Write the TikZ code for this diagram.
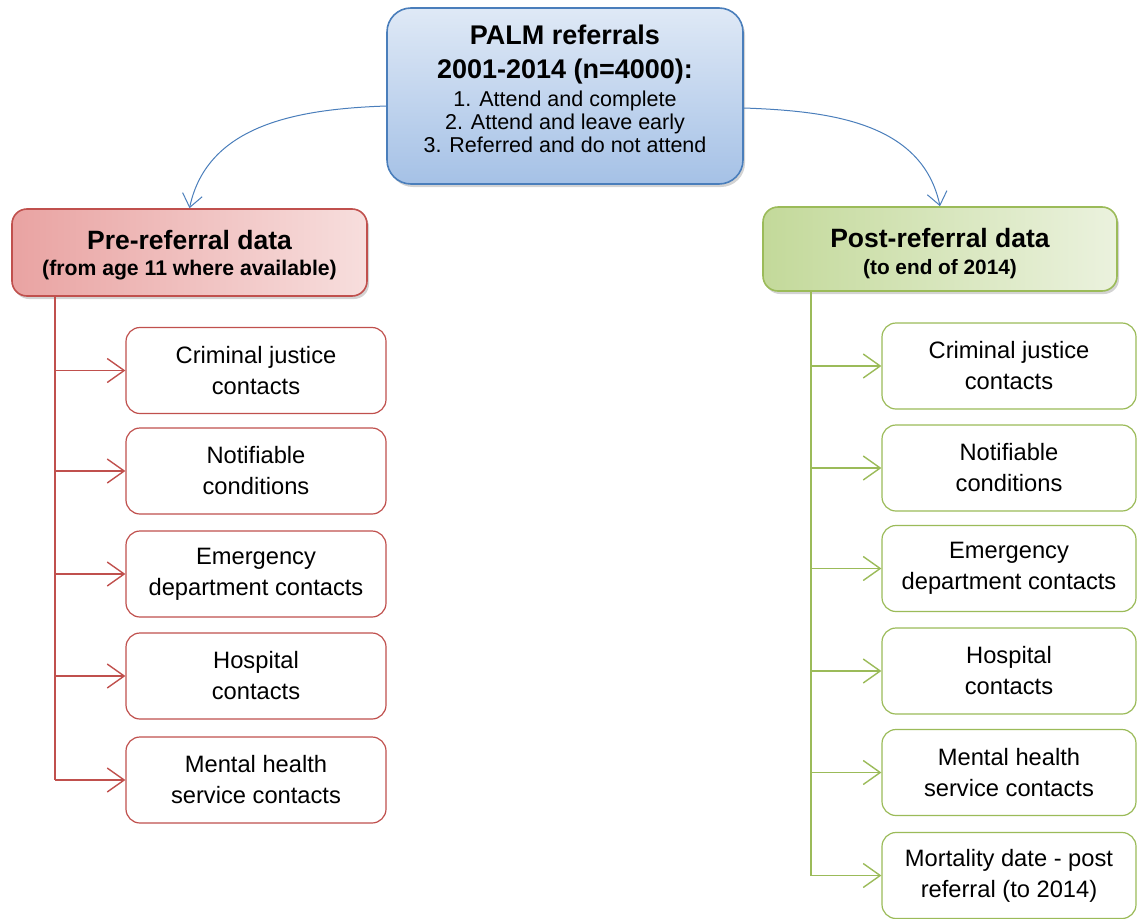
\documentclass[tikz,border=0pt]{standalone}
\usepackage{fontspec}
\setmainfont{Liberation Sans}
\usetikzlibrary{arrows.meta,shadows,calc}
\definecolor{bluedge}{HTML}{4A7EBB}
\definecolor{bluetop}{HTML}{DFE9F6}
\definecolor{bluebot}{HTML}{A5C1E6}
\definecolor{rededge}{HTML}{C0504D}
\definecolor{redl}{HTML}{E9A3A2}
\definecolor{redr}{HTML}{F7DEDD}
\definecolor{grnedge}{HTML}{9BBB59}
\definecolor{grnl}{HTML}{C3D99A}
\definecolor{grnr}{HTML}{EBF2DE}
\begin{document}
\begin{tikzpicture}[x=1pt,y=-1pt,
  childbox/.style={draw=#1, line width=1.2pt, rounded corners=14pt, fill=white,
    minimum height=86pt, align=center, inner sep=0pt,
    font=\fontsize{23.7}{31}\selectfont},
  headbox/.style={draw=#1, line width=1.6pt, rounded corners=15pt, align=center,
    inner sep=0pt, drop shadow={opacity=0.35, shadow xshift=2pt, shadow yshift=-3pt}},
  barb/.style={draw=#1, line width=1.4pt, -{Straight Barb[length=17pt,width=24pt,line width=1.4pt]}},
  trunk/.style={draw=#1, line width=1.4pt},
  curvearrow/.style={draw=bluedge, line width=1pt, -{Straight Barb[length=13pt,width=20pt,line width=1pt]}},
]
\useasboundingbox (0,0) rectangle (1137,918);

% top box
\node[headbox=bluedge, top color=bluetop, bottom color=bluebot, rounded corners=24pt,
  minimum width=356pt, minimum height=176pt] (top) at (565,96) {};
\node[align=center, font=\bfseries\fontsize{27}{34}\selectfont] (toptitle) at (565,55)
  {PALM referrals\\2001-2014 (n=4000):};
\node[align=center, font=\fontsize{21.5}{23}\selectfont] (toplist) at (565,122)
  {1. Attend and complete\\2. Attend and leave early\\3. Referred and do not attend};

% header boxes
\node[headbox=rededge, left color=redl, right color=redr,
  minimum width=355pt, minimum height=87pt] (pre) at (189.5,252.5) {};
\node[font=\bfseries\fontsize{26.5}{30}\selectfont] (pret) at (189.5,240) {Pre-referral data};
\node[font=\bfseries\fontsize{21.2}{24}\selectfont] (pres) at (189.5,270) {(from age 11 where available)};
\node[headbox=grnedge, left color=grnl, right color=grnr,
  minimum width=354pt, minimum height=84pt] (post) at (940,249) {};
\node[font=\bfseries\fontsize{26.5}{30}\selectfont] (postt) at (940,238) {Post-referral data};
\node[font=\bfseries\fontsize{20.8}{24}\selectfont] (posts) at (940,269) {(to end of 2014)};

% curved arrows
\draw[curvearrow] ($(top.west)+(0,10)$) to[out=182,in=78] (pre.north);
\draw[curvearrow] ($(top.east)+(0,12)$) to[out=-2,in=102] (post.north);

% left children
\node[childbox=rededge, minimum width=260pt] (L1) at (256,370.5) {Criminal justice\\contacts};
\node[childbox=rededge, minimum width=260pt] (L2) at (256,471) {Notifiable\\conditions};
\node[childbox=rededge, minimum width=260pt] (L3) at (256,574) {Emergency\\department contacts};
\node[childbox=rededge, minimum width=260pt] (L4) at (256,676) {Hospital\\contacts};
\node[childbox=rededge, minimum width=260pt] (L5) at (256,780) {Mental health\\service contacts};

\coordinate (lt) at (55,0);
\draw[trunk=rededge] (lt |- pre.south) -- (lt |- L5.west);
\foreach \n in {L1,L2,L3,L4,L5} \draw[barb=rededge] (lt |- \n.west) -- (\n.west);

% right children
\node[childbox=grnedge, minimum width=254pt] (R1) at (1009,366) {Criminal justice\\contacts};
\node[childbox=grnedge, minimum width=254pt] (R2) at (1009,468) {Notifiable\\conditions};
\node[childbox=grnedge, minimum width=254pt] (R3) at (1009,568.5) {Emergency\\department contacts};
\node[childbox=grnedge, minimum width=254pt] (R4) at (1009,671) {Hospital\\contacts};
\node[childbox=grnedge, minimum width=254pt] (R5) at (1009,772.5) {Mental health\\service contacts};
\node[childbox=grnedge, minimum width=254pt] (R6) at (1009,875.5) {Mortality date - post\\referral (to 2014)};

\coordinate (rt) at (811,0);
\draw[trunk=grnedge] (rt |- post.south) -- (rt |- R6.west);
\foreach \n in {R1,R2,R3,R4,R5,R6} \draw[barb=grnedge] (rt |- \n.west) -- (\n.west);
\end{tikzpicture}
\end{document}
